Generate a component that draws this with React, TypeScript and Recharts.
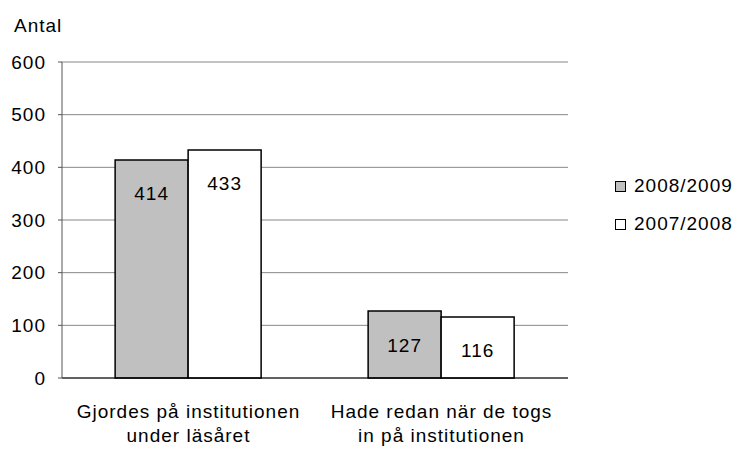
import React from "react";
import { BarChart, Bar, XAxis, YAxis, CartesianGrid, LabelList } from "recharts";

const categories = ["Gjordes på institutionen|under läsåret", "Hade redan när de togs|in på institutionen"];
const series2008_2009 = [414, 127];
const series2007_2008 = [433, 116];
const yTicks = [0, 100, 200, 300, 400, 500, 600];
const seriesNames = ["2008/2009", "2007/2008"];

const data = categories.map((c, i) => ({
  name: c,
  a: series2008_2009[i],
  b: series2007_2008[i],
}));

const FONT = "'Liberation Sans', Arial, sans-serif";
const FS = 19;
const LS = 1;

const XTick = (props: any) => {
  const { x, y, payload } = props;
  const lines = String(payload.value).split("|");
  return (
    <text x={x} y={y} textAnchor="middle" fontFamily={FONT} fontSize={FS} letterSpacing={LS} fill="#000">
      {lines.map((l: string, i: number) => (
        <tspan key={i} x={x} dy={i === 0 ? 32 : 24}>{l}</tspan>
      ))}
    </text>
  );
};

const YTick = (props: any) => {
  const { x, y, payload } = props;
  return (
    <text x={x} y={y} textAnchor="end" dominantBaseline="central" fontFamily={FONT} fontSize={FS} letterSpacing={LS} fill="#000">
      {payload.value}
    </text>
  );
};

const ValueLabel = (props: any) => {
  const { x, y, width, value } = props;
  return (
    <text x={x + width / 2} y={y + 34} textAnchor="middle" dominantBaseline="central" fontFamily={FONT} fontSize={FS} letterSpacing={LS} fill="#000">
      {value}
    </text>
  );
};

export default function App() {
  return (
    <div style={{ position: "absolute", left: 0, top: 0, width: 739, height: 450, background: "#fff" }}>
      <div style={{ position: "absolute", left: 14, top: 15, fontFamily: FONT, fontSize: FS, letterSpacing: LS }}>Antal</div>
      <div style={{ position: "absolute", left: 615, top: 167, fontFamily: FONT, fontSize: FS, letterSpacing: LS, color: "#000" }}>
        {seriesNames.map((n, i) => (
          <div key={n} style={{ display: "flex", alignItems: "center", height: 38 }}>
            <span style={{ display: "inline-block", width: 9, height: 9, border: "1.5px solid #000", background: i === 0 ? "#c0c0c0" : "#fff", marginRight: 8 }} />
            <span>{n}</span>
          </div>
        ))}
      </div>
      <BarChart width={739} height={450} data={data} margin={{ top: 62, right: 171, bottom: 0, left: 0 }} barCategoryGap="21%" barGap={0}>
        <CartesianGrid vertical={false} stroke="#888" strokeWidth={1} yAxisId="l" />
        <XAxis dataKey="name" tick={<XTick />} tickLine={false} axisLine={{ stroke: "#000", strokeWidth: 1 }} height={72} interval={0} />
        <YAxis yAxisId="l" domain={[0, 600]} ticks={yTicks} width={62} tickSize={4} tickMargin={12}
          tickLine={{ stroke: "#555" }} axisLine={{ stroke: "#555" }}
          tick={<YTick />} interval={0} />
        <YAxis yAxisId="r" orientation="right" domain={[0, 600]} width={0} tick={false} tickLine={false} axisLine={{ stroke: "#888" }} />
        <Bar yAxisId="l" dataKey="a" name={seriesNames[0]} fill="#c0c0c0" stroke="#000" strokeWidth={1.5} isAnimationActive={false}>
          <LabelList dataKey="a" content={<ValueLabel />} />
        </Bar>
        <Bar yAxisId="l" dataKey="b" name={seriesNames[1]} fill="#fff" stroke="#000" strokeWidth={1.5} isAnimationActive={false}>
          <LabelList dataKey="b" content={<ValueLabel />} />
        </Bar>
      </BarChart>
    </div>
  );
}
